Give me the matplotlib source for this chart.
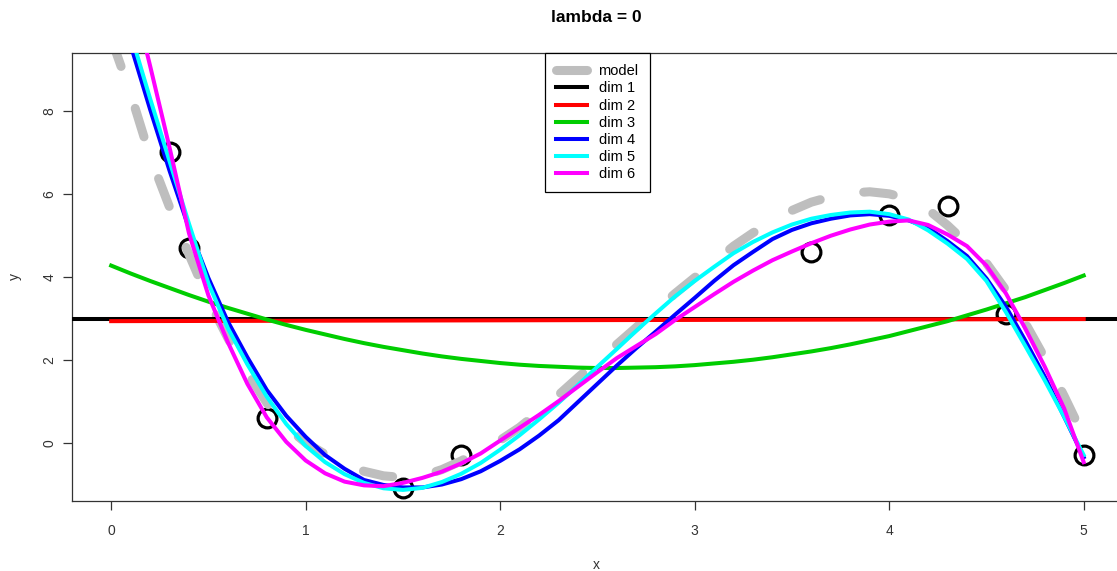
"""
Polynomial fits of increasing dimension against the true model (lambda = 0).
"""

import matplotlib as mpl

mpl.use("Agg")

import matplotlib.pyplot as plt
from matplotlib.lines import Line2D

# observed points
obs_x = [0.3, 0.4, 0.8, 1.5, 1.8, 3.6, 4.0, 4.3, 4.6, 5.0]
obs_y = [7.0, 4.7, 0.6, -1.1, -0.3, 4.6, 5.5, 5.7, 3.1, -0.3]

# curves on a common x grid (step 0.1)
grid_x = [round(0.1 * i, 1) for i in range(51)]
model_y = [9.75, 8.42, 6.90, 5.68, 4.54, 3.45, 2.52, 1.70, 0.96, 0.38,
           0.00, -0.28, -0.52, -0.69, -0.80, -0.84, -0.80, -0.65, -0.44, -0.18,
           0.06, 0.37, 0.75, 1.15, 1.57, 1.97, 2.37, 2.78, 3.20, 3.60,
           3.98, 4.36, 4.74, 5.06, 5.34, 5.60, 5.80, 5.93, 6.02, 6.05,
           6.00, 5.88, 5.62, 5.24, 4.80, 4.33, 3.68, 2.88, 2.04, 1.12, 0.15]
dim3_y = [4.27, 4.08, 3.90, 3.73, 3.56, 3.40, 3.25, 3.11, 2.97, 2.84,
          2.72, 2.61, 2.50, 2.40, 2.31, 2.23, 2.15, 2.08, 2.02, 1.97,
          1.92, 1.88, 1.85, 1.83, 1.81, 1.80, 1.80, 1.81, 1.82, 1.84,
          1.87, 1.91, 1.95, 2.00, 2.06, 2.13, 2.20, 2.28, 2.37, 2.47,
          2.57, 2.69, 2.81, 2.93, 3.07, 3.21, 3.36, 3.51, 3.68, 3.85, 4.03]
dim4_y = [11.25, 9.59, 8.04, 6.56, 5.17, 3.97, 2.92, 2.06, 1.27, 0.65,
          0.14, -0.30, -0.63, -0.90, -1.02, -1.08, -1.08, -1.01, -0.88, -0.69,
          -0.44, -0.16, 0.17, 0.54, 0.98, 1.42, 1.86, 2.28, 2.68, 3.09,
          3.49, 3.90, 4.28, 4.60, 4.91, 5.13, 5.29, 5.40, 5.48, 5.51,
          5.47, 5.36, 5.18, 4.86, 4.50, 3.96, 3.28, 2.46, 1.59, 0.62, -0.35]
dim5_y = [11.5, 9.87, 8.30, 6.79, 5.28, 3.84, 2.76, 1.89, 1.11, 0.45,
          -0.08, -0.47, -0.76, -0.97, -1.10, -1.14, -1.09, -0.95, -0.75, -0.49,
          -0.17, 0.18, 0.56, 0.96, 1.39, 1.83, 2.26, 2.70, 3.12, 3.53,
          3.90, 4.24, 4.57, 4.84, 5.07, 5.26, 5.40, 5.49, 5.55, 5.57,
          5.51, 5.38, 5.12, 4.80, 4.43, 3.90, 3.15, 2.33, 1.50, 0.62, -0.30]
dim6_y = [13.0, 11.0, 9.09, 7.12, 5.05, 3.55, 2.42, 1.42, 0.61, 0.02,
          -0.43, -0.74, -0.94, -1.03, -1.05, -0.97, -0.85, -0.70, -0.50, -0.26,
          0.05, 0.36, 0.67, 1.00, 1.35, 1.70, 2.04, 2.33, 2.62, 2.96,
          3.27, 3.58, 3.88, 4.15, 4.40, 4.61, 4.81, 4.99, 5.14, 5.26,
          5.33, 5.36, 5.25, 5.02, 4.74, 4.27, 3.60, 2.75, 1.83, 0.82, -0.47]

# dim 1 is the mean level, dim 2 a nearly flat line
dim1_level = 2.97
dim2_x = [0.0, 5.0]
dim2_y = [2.93, 2.98]

x_ticks = [0, 1, 2, 3, 4, 5]
y_ticks = [0, 2, 4, 6, 8]
legend_labels = ["model", "dim 1", "dim 2", "dim 3", "dim 4", "dim 5", "dim 6"]

AXIS_GREY = "#333333"
LW = 2.9


def main():
    plt.rcParams["font.family"] = ["Liberation Sans", "DejaVu Sans"]
    fig = plt.figure(figsize=(11.17, 5.71), dpi=100)
    ax = fig.add_axes([0.0647, 0.1231, 0.9403, 0.7836])

    ax.plot(obs_x, obs_y, linestyle="none", marker="o", markersize=13.5,
            markerfacecolor="none", markeredgecolor="black", markeredgewidth=2.3,
            zorder=1)

    handles = []
    ax.plot(grid_x, model_y, color="#bebebe", lw=6.5, dashes=(3.3, 4.9),
            dash_capstyle="round", solid_joinstyle="round", zorder=2)
    handles.append(Line2D([], [], color="#bebebe", lw=6.5, solid_capstyle="round"))
    handles.append(ax.axhline(dim1_level, color="black", lw=LW, zorder=3))
    series = [
        (dim2_x, dim2_y, "#ff0000"),
        (grid_x, dim3_y, "#00cd00"),
        (grid_x, dim4_y, "#0000ff"),
        (grid_x, dim5_y, "#00ffff"),
        (grid_x, dim6_y, "#ff00ff"),
    ]
    for i, (xs, ys, color) in enumerate(series):
        (line,) = ax.plot(xs, ys, color=color, lw=LW, solid_joinstyle="round",
                          zorder=4 + i)
        handles.append(line)

    ax.set_xlim(-0.2, 5.2)
    ax.set_ylim(-1.40, 9.39)
    ax.set_xticks(x_ticks)
    ax.set_yticks(y_ticks)
    ax.set_xticklabels([str(t) for t in x_ticks])
    ax.set_yticklabels([str(t) for t in y_ticks], rotation=90, va="center")
    ax.tick_params(axis="both", length=6.5, width=0.9, color=AXIS_GREY,
                   labelcolor="#333333", labelsize=10)
    ax.tick_params(axis="x", pad=10)
    ax.tick_params(axis="y", pad=5)
    for spine in ax.spines.values():
        spine.set_color(AXIS_GREY)
        spine.set_linewidth(0.9)

    leg = ax.legend(handles, legend_labels, loc="upper center",
                    bbox_to_anchor=(0.5, 1.0), borderaxespad=0, fontsize=10.5,
                    handlelength=2.1, handletextpad=0.8, labelspacing=0.22,
                    borderpad=0.75, fancybox=False, framealpha=1)
    leg.get_frame().set_edgecolor("black")
    leg.get_frame().set_linewidth(0.9)

    fig.text(596 / 1117, 1 - 18 / 571, "lambda = 0", ha="center", va="center",
             fontsize=12.5, fontweight="bold")
    fig.text(596 / 1117, 1 - 565 / 571, "x", ha="center", va="center",
             fontsize=10, color="#333333")
    fig.text(15 / 1117, 1 - 277 / 571, "y", ha="center", va="center",
             rotation=90, fontsize=10, color="#333333")

    fig.savefig("out.png", dpi=100)
    plt.close(fig)


if __name__ == "__main__":
    main()
